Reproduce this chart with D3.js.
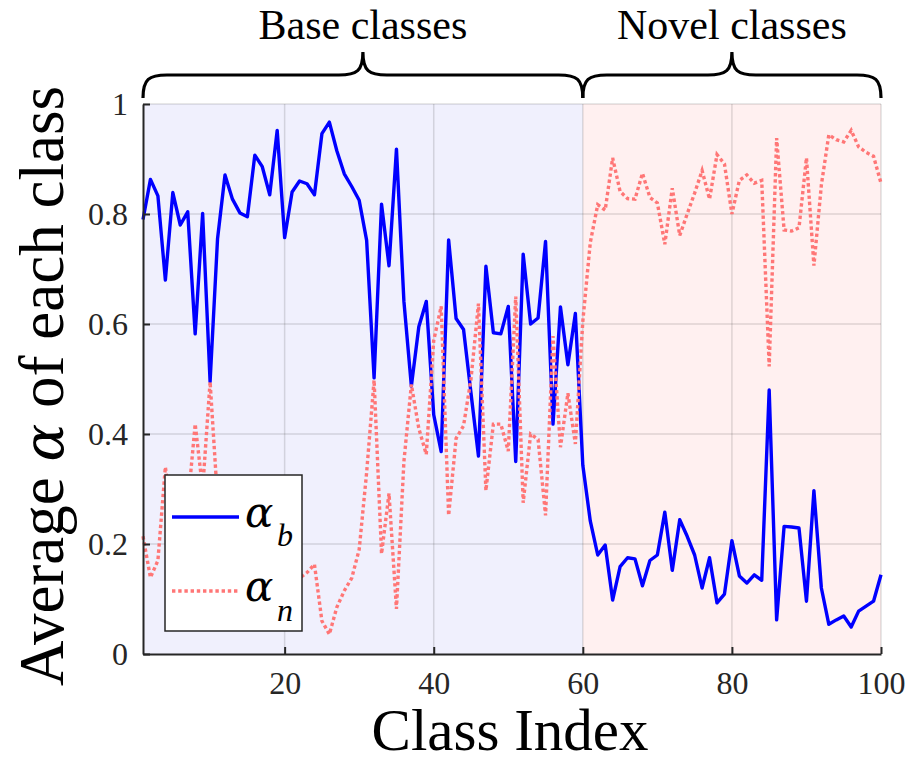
<!DOCTYPE html>
<html>
<head>
<meta charset="utf-8">
<script src="https://cdn.jsdelivr.net/npm/d3@7/dist/d3.min.js"></script>
<style>
  html, body { margin: 0; padding: 0; background: #ffffff; }
  svg { display: block; }
  text { font-family: "Liberation Serif", "Times New Roman", "DejaVu Serif", serif; }
  .greek { font-family: "DejaVu Serif", "Liberation Serif", serif; font-style: italic; }
</style>
</head>
<body>
<svg id="chart" width="917" height="759"></svg>
<script>
// Class indices 1..100
const classIndex = d3.range(1, 101);

// Average alpha_b per class
const alphaB = [
  0.790, 0.863, 0.833, 0.680, 0.839, 0.780, 0.804, 0.582, 0.801, 0.495,
  0.755, 0.871, 0.827, 0.802, 0.795, 0.907, 0.886, 0.835, 0.952, 0.757,
  0.840, 0.860, 0.855, 0.835, 0.946, 0.967, 0.915, 0.873, 0.850, 0.825,
  0.752, 0.502, 0.818, 0.706, 0.918, 0.641, 0.487, 0.595, 0.641, 0.435,
  0.368, 0.753, 0.610, 0.590, 0.474, 0.360, 0.705, 0.584, 0.582, 0.632,
  0.350, 0.727, 0.600, 0.611, 0.750, 0.418, 0.631, 0.526, 0.619, 0.343,
  0.242, 0.180, 0.198, 0.098, 0.159, 0.175, 0.173, 0.124, 0.170, 0.180,
  0.258, 0.152, 0.244, 0.214, 0.180, 0.120, 0.175, 0.093, 0.109, 0.206,
  0.142, 0.129, 0.144, 0.134, 0.480, 0.062, 0.232, 0.231, 0.229, 0.096,
  0.297, 0.120, 0.054, 0.062, 0.069, 0.049, 0.078, 0.087, 0.096, 0.144
];

// Average alpha_n per class
const alphaN = [
  0.214, 0.139, 0.170, 0.340, 0.240, 0.220, 0.270, 0.418, 0.300, 0.495,
  0.280, 0.220, 0.200, 0.190, 0.160, 0.140, 0.150, 0.120, 0.100, 0.160,
  0.120, 0.138, 0.148, 0.163, 0.060, 0.036, 0.085, 0.115, 0.138, 0.190,
  0.330, 0.498, 0.182, 0.292, 0.082, 0.350, 0.490, 0.410, 0.363, 0.570,
  0.632, 0.252, 0.392, 0.415, 0.500, 0.637, 0.297, 0.418, 0.418, 0.369,
  0.650, 0.275, 0.400, 0.390, 0.252, 0.578, 0.376, 0.474, 0.382, 0.605,
  0.748, 0.817, 0.807, 0.902, 0.841, 0.828, 0.827, 0.874, 0.830, 0.820,
  0.745, 0.847, 0.761, 0.800, 0.838, 0.879, 0.827, 0.908, 0.891, 0.800,
  0.861, 0.871, 0.856, 0.861, 0.523, 0.938, 0.771, 0.769, 0.775, 0.902,
  0.706, 0.853, 0.944, 0.935, 0.931, 0.952, 0.922, 0.912, 0.905, 0.856
];

const xTicks = [20, 40, 60, 80, 100];
const yTicks = [0, 0.2, 0.4, 0.6, 0.8, 1];
const yTickLabels = ["0", "0.2", "0.4", "0.6", "0.8", "1"];

// Class groups shown as shaded bands with braces above
const groupNames = ["Base classes", "Novel classes"];
const groupStart = [1, 60];
const groupEnd = [60, 100];
const groupFill = ["#f0f0fd", "#fff0f0"];

const svg = d3.select("#chart");
const plotLeft = 143, plotRight = 881, plotTop = 104, plotBottom = 654;

const x = d3.scaleLinear().domain([1, 100]).range([plotLeft, plotRight]);
const y = d3.scaleLinear().domain([0, 1]).range([plotBottom, plotTop]);

// Shaded bands
svg.append("g").selectAll("rect")
  .data(groupNames)
  .join("rect")
  .attr("x", (d, i) => x(groupStart[i]))
  .attr("y", y(1))
  .attr("width", (d, i) => x(groupEnd[i]) - x(groupStart[i]))
  .attr("height", y(0) - y(1))
  .attr("fill", (d, i) => groupFill[i]);

// Grid lines
const grid = svg.append("g")
  .attr("stroke", "#262626")
  .attr("stroke-opacity", 0.15)
  .attr("stroke-width", 1.5);
grid.selectAll(".gx").data(xTicks).join("line")
  .attr("x1", d => x(d)).attr("x2", d => x(d))
  .attr("y1", y(0)).attr("y2", y(1));
grid.selectAll(".gy").data(yTicks.filter(v => v > 0)).join("line")
  .attr("x1", x(1)).attr("x2", x(100))
  .attr("y1", d => y(d)).attr("y2", d => y(d));

// Series lines
const line = d3.line()
  .x((d, i) => x(classIndex[i]))
  .y(d => y(d));

svg.append("path")
  .datum(alphaB)
  .attr("d", line)
  .attr("fill", "none")
  .attr("stroke", "#0000ff")
  .attr("stroke-width", 3.4)
  .attr("stroke-linejoin", "round");

svg.append("path")
  .datum(alphaN)
  .attr("d", line)
  .attr("fill", "none")
  .attr("stroke", "#ff7676")
  .attr("stroke-width", 3.4)
  .attr("stroke-dasharray", "3.4 2.8");

// Axes (ticks pointing inward)
const xAxis = d3.axisBottom(x).tickValues(xTicks).tickSizeInner(-7).tickSizeOuter(0).tickPadding(17);
const yAxis = d3.axisLeft(y).tickValues(yTicks).tickFormat((d, i) => yTickLabels[i])
  .tickSizeInner(-7).tickSizeOuter(0).tickPadding(15);

const gx = svg.append("g").attr("transform", `translate(0,${plotBottom})`).call(xAxis);
const gy = svg.append("g").attr("transform", `translate(${plotLeft},0)`).call(yAxis);
[gx, gy].forEach(g => {
  g.select(".domain").attr("stroke", "#262626").attr("stroke-width", 2);
  g.selectAll(".tick line").attr("stroke", "#262626").attr("stroke-width", 2);
  g.selectAll(".tick text")
    .attr("fill", "#262626")
    .style("font-family", "'Liberation Serif', 'Times New Roman', serif")
    .style("font-size", "32px");
});

// Axis titles
svg.append("text")
  .attr("x", 510).attr("y", 750)
  .attr("text-anchor", "middle")
  .attr("fill", "#000")
  .style("font-size", "59px")
  .text("Class Index");

const yTitle = svg.append("text")
  .attr("transform", "translate(63,386) rotate(-90)")
  .attr("text-anchor", "middle")
  .attr("fill", "#000")
  .style("font-size", "63px");
yTitle.append("tspan").text("Average ");
yTitle.append("tspan").attr("class", "greek").style("font-size", "56px").text("α");
yTitle.append("tspan").text(" of each class");

// Braces over the groups
function bracePath(x0, x1, xm, yb, yh, yt, r) {
  return `M${x0},${yb} C${x0},${yh + 4} ${x0 + 6},${yh} ${x0 + r},${yh}` +
         ` L${xm - r},${yh} C${xm - 6},${yh} ${xm},${yh - 4} ${xm},${yt}` +
         ` C${xm},${yh - 4} ${xm + 6},${yh} ${xm + r},${yh}` +
         ` L${x1 - r},${yh} C${x1 - 6},${yh} ${x1},${yh + 4} ${x1},${yb}`;
}
const braces = svg.append("g");
groupNames.forEach((name, i) => {
  const x0 = x(groupStart[i]), x1 = x(groupEnd[i]);
  const xm = (x0 + x1) / 2;
  braces.append("path")
    .attr("d", bracePath(x0, x1, xm, 98, 75, 52, 24))
    .attr("fill", "none")
    .attr("stroke", "#000")
    .attr("stroke-width", 3.2);
  braces.append("text")
    .attr("x", xm).attr("y", 39)
    .attr("text-anchor", "middle")
    .attr("fill", "#000")
    .style("font-size", "42px")
    .text(name);
});

// Legend
const lg = svg.append("g");
lg.append("rect")
  .attr("x", 165).attr("y", 475)
  .attr("width", 137).attr("height", 156)
  .attr("fill", "#ffffff")
  .attr("stroke", "#262626")
  .attr("stroke-width", 1.5);
lg.append("line")
  .attr("x1", 172).attr("x2", 239).attr("y1", 517).attr("y2", 517)
  .attr("stroke", "#0000ff").attr("stroke-width", 3.4);
lg.append("line")
  .attr("x1", 172).attr("x2", 239).attr("y1", 591).attr("y2", 591)
  .attr("stroke", "#ff7676").attr("stroke-width", 3.4)
  .attr("stroke-dasharray", "3.4 2.8");

const legendLabels = [["α", "b", 527, 546], ["α", "n", 601, 621]];
legendLabels.forEach(([sym, sub, yBase, ySub]) => {
  lg.append("text")
    .attr("x", 245).attr("y", yBase)
    .attr("class", "greek")
    .attr("fill", "#000")
    .style("font-size", "42px")
    .text(sym);
  lg.append("text")
    .attr("x", 277).attr("y", ySub)
    .attr("fill", "#000")
    .style("font-size", "32px")
    .style("font-style", "italic")
    .text(sub);
});
</script>
</body>
</html>
